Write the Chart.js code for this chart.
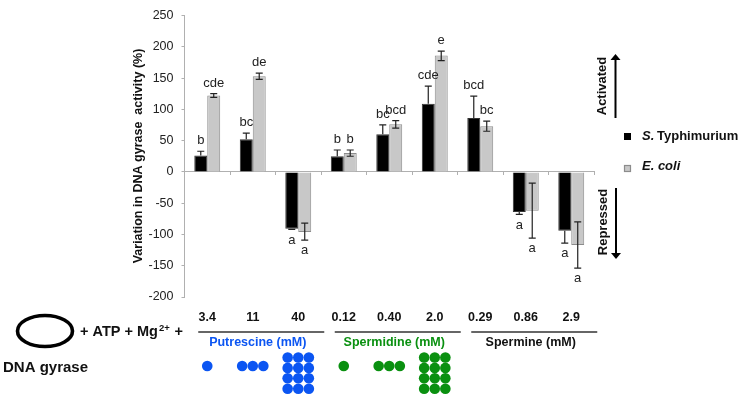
<!DOCTYPE html>
<html>
<head>
<meta charset="utf-8">
<title>DNA gyrase activity</title>
<script src="https://cdn.jsdelivr.net/npm/chart.js@4/dist/chart.umd.min.js"></script>
<style>
  html, body { margin: 0; padding: 0; background: #fff; }
  canvas { display: block; }
</style>
</head>
<body>
<canvas id="gyraseChart" width="750" height="418"></canvas>
<script>
// concentrations, one per bar group
var concentrations = ["3.4","11","40","0.12","0.40","2.0","0.29","0.86","2.9"];
var dotCounts = [1,3,12,1,3,12,0,0,0];

var typhimurium = [26,52,-91,25,60,109,86,-64,-94];
var typhiErrEnd = [33,62,-92,35,75,137,121,-68,-114];
var typhiErrStart = [26,52,-91,25,60,109,86,-64,-94];
var typhiLetters = ["b","bc","a","b","bc","cde","bcd","a","a"];

var ecoli = [122,153,-96,30,76,186,73,-62,-117];
var ecoliErrEnd = [125,158,-109,35,82,193,81,-106,-154];
var ecoliErrStart = [119,148,-82,25,70,178,65,-18,-80];
var ecoliLetters = ["cde","de","a","b","bcd","e","bc","a","a"];

var yTicks = [250,200,150,100,50,0,-50,-100,-150,-200];

var groups = [
  { name: "Putrescine (mM)", first: 0, last: 2, color: "#0b55f2" },
  { name: "Spermidine (mM)", first: 3, last: 5, color: "#0a9010" },
  { name: "Spermine (mM)", first: 6, last: 8, color: "#111" }
];

var FONT = '"Liberation Sans", Arial, sans-serif';

// drawing helpers
function label(ctx, text, x, y, font, color, align) {
  ctx.font = font;
  ctx.fillStyle = color || "#111";
  ctx.textAlign = align || "center";
  ctx.textBaseline = "middle";
  ctx.fillText(text, x, y);
}

function vertLabel(ctx, text, x, y, font) {
  ctx.save();
  ctx.translate(x, y);
  ctx.rotate(-Math.PI / 2);
  label(ctx, text, 0, 0, font, "#111");
  ctx.restore();
}

function arrow(ctx, x, y0, y1) {
  var dir = y1 < y0 ? -1 : 1;
  ctx.strokeStyle = "#000";
  ctx.fillStyle = "#000";
  ctx.lineWidth = 2;
  ctx.beginPath();
  ctx.moveTo(x, y0);
  ctx.lineTo(x, y1 - dir * 4);
  ctx.stroke();
  ctx.beginPath();
  ctx.moveTo(x, y1);
  ctx.lineTo(x - 5, y1 - dir * 6);
  ctx.lineTo(x + 5, y1 - dir * 6);
  ctx.closePath();
  ctx.fill();
}

function drawWhiskers(chart, idx, starts, ends, letters, color) {
  var ctx = chart.ctx, y = chart.scales.y;
  chart.getDatasetMeta(idx).data.forEach(function (bar, i) {
    var top = y.getPixelForValue(starts[i]), end = y.getPixelForValue(ends[i]);
    ctx.strokeStyle = color;
    ctx.lineWidth = 1.2;
    ctx.beginPath();
    ctx.moveTo(bar.x, top);
    ctx.lineTo(bar.x, end);
    ctx.moveTo(bar.x - 3.5, end);
    ctx.lineTo(bar.x + 3.5, end);
    if (idx === 1) {
      ctx.moveTo(bar.x - 3.5, top);
      ctx.lineTo(bar.x + 3.5, top);
    }
    ctx.stroke();
    var dir = ends[i] < 0 ? 1 : -1;
    label(ctx, letters[i], bar.x, end + dir * 10.5, "13px " + FONT, "#222");
  });
}

var annotations = {
  id: "annotations",
  afterDatasetsDraw: function (chart) {
    var ctx = chart.ctx, x = chart.scales.x;
    ctx.save();

    drawWhiskers(chart, 0, typhiErrStart, typhiErrEnd, typhiLetters, "#222");
    drawWhiskers(chart, 1, ecoliErrStart, ecoliErrEnd, ecoliLetters, "#222");

    vertLabel(ctx, "Variation in DNA gyrase  activity (%)", 139, 156, "bold 12.5px " + FONT);

    // side legend
    ctx.fillStyle = "#000";
    ctx.fillRect(624, 133, 7, 7);
    ctx.fillStyle = "#c8c8c8";
    ctx.strokeStyle = "#8c8c8c";
    ctx.fillRect(624, 165, 7, 7);
    ctx.strokeRect(624.5, 165.5, 6, 6);
    label(ctx, "S.", 642, 136.5, "italic bold 13px " + FONT, "#111", "left");
    label(ctx, "Typhimurium", 657, 136.5, "bold 13px " + FONT, "#111", "left");
    label(ctx, "E. coli", 642, 166.5, "italic bold 13px " + FONT, "#111", "left");

    vertLabel(ctx, "Activated", 602, 86, "bold 13px " + FONT);
    vertLabel(ctx, "Repressed", 603, 222, "bold 13px " + FONT);
    arrow(ctx, 615.5, 118, 54);
    arrow(ctx, 616, 188, 259);

    // concentrations and dots under each group
    concentrations.forEach(function (c, i) {
      var cx = x.getPixelForValue(i);
      label(ctx, c, cx, 318, "bold 12.5px " + FONT, "#111");
      var g = groups.filter(function (g) { return i >= g.first && i <= g.last; })[0];
      var n = dotCounts[i];
      ctx.fillStyle = g.color;
      var cols = n === 12 ? 3 : n;
      for (var k = 0; k < n; k++) {
        var col = k % cols, row = Math.floor(k / cols);
        var dx = cx + (col - (cols - 1) / 2) * 10.6;
        var dy = n === 12 ? 357.5 + row * 10.4 : 366;
        ctx.beginPath();
        ctx.arc(dx, dy, 5.3, 0, Math.PI * 2);
        ctx.fill();
      }
    });

    groups.forEach(function (g) {
      var x0 = x.getPixelForValue(g.first), x1 = x.getPixelForValue(g.last);
      ctx.strokeStyle = "#333";
      ctx.lineWidth = 1.6;
      ctx.beginPath();
      ctx.moveTo(x0 - 9, 332);
      ctx.lineTo(x1 + 26, 332);
      ctx.stroke();
      label(ctx, g.name, (x0 + x1) / 2 + 5, 342.5, "bold 12.5px " + FONT, g.color);
    });

    // reaction on the left
    ctx.strokeStyle = "#000";
    ctx.lineWidth = 3.6;
    ctx.beginPath();
    ctx.ellipse(45, 331, 27.5, 15.5, 0, 0, Math.PI * 2);
    ctx.stroke();
    label(ctx, "+ ATP + Mg", 80, 332, "bold 14.5px " + FONT, "#111", "left");
    label(ctx, "2+", 159, 328, "bold 9.5px " + FONT, "#111", "left");
    label(ctx, "+", 174.5, 332, "bold 14.5px " + FONT, "#111", "left");
    label(ctx, "DNA gyrase", 3, 368, "bold 15px " + FONT, "#111", "left");

    ctx.restore();
  }
};

new Chart(document.getElementById("gyraseChart"), {
  type: "bar",
  data: {
    labels: concentrations,
    datasets: [
      { label: "S. Typhimurium", data: typhimurium, backgroundColor: "#000", borderColor: "#333", borderWidth: 1 },
      { label: "E. coli", data: ecoli, backgroundColor: "#c8c8c8", borderColor: "#8c8c8c", borderWidth: 1 }
    ]
  },
  options: {
    responsive: false,
    animation: false,
    layout: { padding: { top: 15.5, right: 156, bottom: 121, left: 0 } },
    categoryPercentage: 0.57,
    barPercentage: 1,
    plugins: { legend: { display: false }, tooltip: { enabled: false } },
    scales: {
      x: {
        position: { y: 0 },
        grid: { drawOnChartArea: false, color: "#b0b0b0", tickLength: 3 },
        border: { color: "#b0b0b0", width: 1 },
        ticks: { display: false }
      },
      y: {
        min: -200,
        max: 250,
        afterFit: function (scale) { scale.width = 184.5; },
        afterBuildTicks: function (scale) {
          scale.ticks = yTicks.map(function (v) { return { value: v }; });
        },
        grid: { drawOnChartArea: false, color: "#b0b0b0", tickLength: 3 },
        border: { color: "#b0b0b0", width: 1 },
        ticks: { color: "#222", font: { family: FONT, size: 12.5 }, padding: 8 }
      }
    }
  },
  plugins: [annotations]
});
</script>
</body>
</html>
